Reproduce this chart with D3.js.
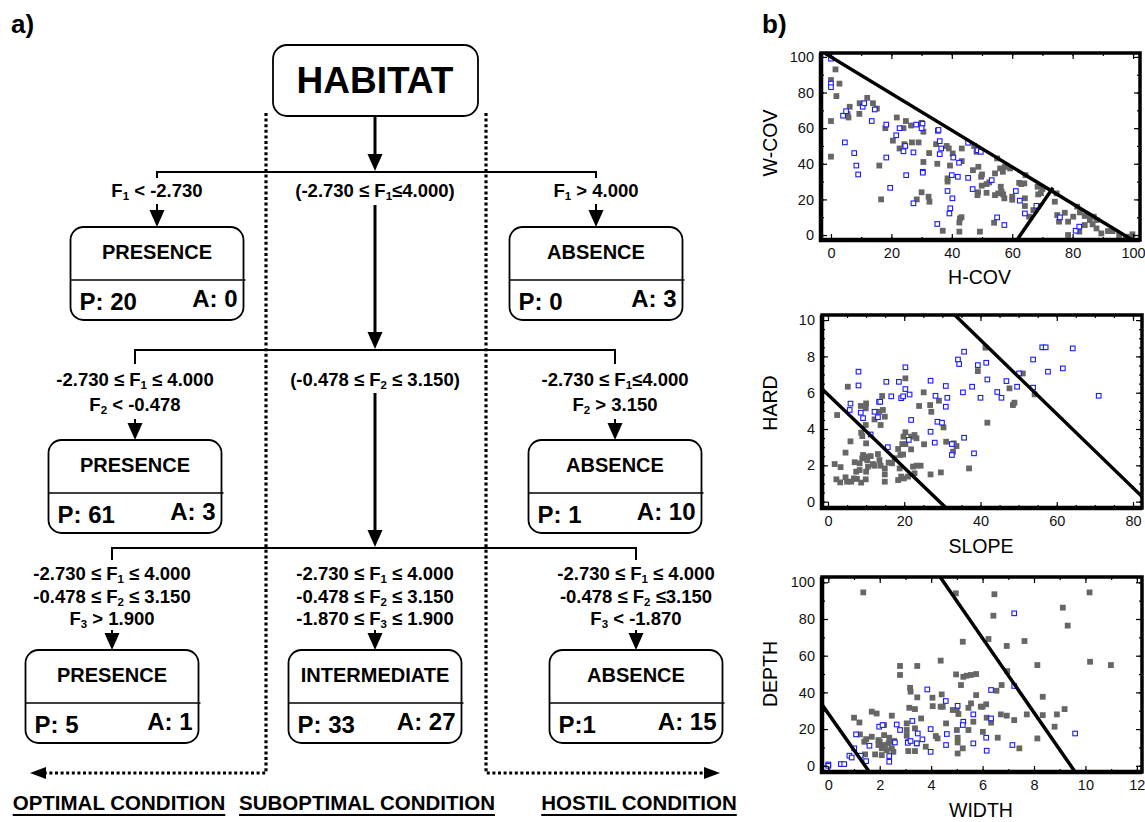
<!DOCTYPE html>
<html lang="en">
<head>
<meta charset="UTF-8">
<script src="https://cdn.jsdelivr.net/npm/d3@7"></script>
<title>Habitat classification tree</title>
<style>
  body { margin: 0; background: #fff; }
  svg text { font-family: "Liberation Sans", Arial, Helvetica, sans-serif; }
</style>
</head>
<body>
<svg id="chart" width="1145" height="822"></svg>
<script>
// ---------- tree (panel a) ----------
var rootLabel = "HABITAT";
var trunkRules = ["(-2.730 ≤ F_1≤4.000)", "(-0.478 ≤ F_2 ≤ 3.150)"];
var leafTitles = ["PRESENCE", "ABSENCE", "PRESENCE", "ABSENCE", "PRESENCE", "INTERMEDIATE", "ABSENCE"];
var leafP = ["P: 20", "P: 0", "P: 61", "P: 1", "P: 5", "P: 33", "P:1"];
var leafA = ["A: 0", "A: 3", "A: 3", "A: 10", "A: 1", "A: 27", "A: 15"];
var leafRules = [
  ["F_1 < -2.730"],
  ["F_1 > 4.000"],
  ["-2.730 ≤ F_1 ≤ 4.000", "F_2 < -0.478"],
  ["-2.730 ≤ F_1≤4.000", "F_2 > 3.150"],
  ["-2.730 ≤ F_1 ≤ 4.000", "-0.478 ≤ F_2 ≤ 3.150", "F_3 > 1.900"],
  ["-2.730 ≤ F_1 ≤ 4.000", "-0.478 ≤ F_2 ≤ 3.150", "-1.870 ≤ F_3 ≤ 1.900"],
  ["-2.730 ≤ F_1 ≤ 4.000", "-0.478 ≤ F_2 ≤3.150", "F_3 < -1.870"]
];
var zoneLabels = ["OPTIMAL CONDITION", "SUBOPTIMAL CONDITION", "HOSTIL CONDITION"];

// ---------- scatter data (panel b) ----------
var hcovGray = [[0,87],[1.5,93],[2.8,85],[1.8,78],[0,64],[0,44],[5.8,66],[6.2,72],[5.5,68],[9.5,74],[12,77],[13.9,74],[15.2,71],[9.4,68],[18,60],[20.5,53],[21.8,66],[24.8,64],[24,60],[26.5,61.5],[30,63],[30.6,58],[22.7,48.6],[24.3,51],[26.8,52],[29,52],[30.6,41],[30,24],[28.4,20],[32.3,21.5],[32.6,18.7],[16,39],[16.6,20],[32.5,46],[34.8,51],[35.2,40],[38.3,50],[39,48.6],[39.4,39],[40.3,45.8],[43.3,48.6],[43.3,41.5],[47.4,50],[48.2,46.7],[38.6,31.8],[38.6,30],[47,36.4],[48.8,38.3],[49.7,32.7],[50,34],[42.7,9.3],[43.2,10],[42.5,7],[42.5,1.9],[37,2.4],[48.5,22.4],[48.7,24],[49.3,1.9],[49.9,27.7],[51.5,28.6],[52.4,29.5],[54.3,34.6],[51.5,23.7],[54.3,22.4],[55.4,23.4],[56.5,24.3],[57,22.8],[56.2,27.1],[55,43],[56,37.4],[56.9,35.5],[57.6,38.3],[59.3,37.4],[57.4,20.6],[54,6.9],[60,21.5],[60,19.8],[62.3,29.3],[63,28.6],[64.2,20.6],[64.2,16.3],[64,29],[64.4,33.6],[65.6,10.3],[67,14],[68.6,16.3],[68.6,22.8],[68.4,27.1],[70,25.8],[69.5,23.5],[74.1,18.7],[74.9,11.2],[75.5,7.5],[74.7,23.4],[77.4,12.5],[78.5,7.5],[78.5,0],[80.2,10.3],[81.5,15.9],[82.4,12.7],[82.2,1.9],[84,10.7],[85,11.2],[85.7,8.4],[86.6,6],[87,10.3],[87.9,8.4],[87.9,3.7],[89.5,0.9],[84,5.6],[91.7,2.2],[93.2,2.2],[95.4,0],[97.6,-1],[99.8,0.4],[99,-1]];
var hcovBlue = [[0,99],[0,85],[0,83],[4,67],[5,69.5],[10.5,72],[11,74],[14.5,70.5],[4.6,52],[7.7,46],[8.4,39],[9,34],[13.5,64],[18.3,62],[21.6,56],[22.7,60],[28.2,62],[30.3,62.5],[30,60],[24,47],[24.6,50],[27.3,46.4],[30.4,35.5],[30.4,35],[27.3,17.8],[18.3,43.5],[19.6,26.5],[24.9,33.6],[35.4,58.5],[35.6,59],[36,52.7],[36.5,48.6],[36,45.4],[40.5,43.5],[42.4,40.6],[45.4,51.8],[48.5,47.6],[49.6,46.7],[40,33.6],[42,32.7],[45.4,32.1],[38.6,24.7],[40.2,20.6],[39.5,15],[39.2,12.1],[35.2,6.2],[46.9,25.8],[53.2,30.8],[55,9.9],[57.4,5.6],[61.2,24.7],[62.5,19.3],[64.2,12.1],[68,16.4],[75.8,9.9],[81,2.4],[82.2,4.7]];

var slopeGray = [[2.4,4.77],[5.2,6.33],[5.9,3.32],[4.6,2.7],[1.75,2.07],[3.3,1.9],[2.2,1.23],[3.2,1.06],[4.6,1.34],[5,1.1],[6.1,1.1],[6.8,1.28],[7.6,1.25],[7,2.17],[7.4,1.65],[8.3,1.74],[8.7,1.05],[9.9,1.23],[8.3,2.11],[9,2.39],[9.2,2.57],[9.9,2.48],[10.3,2.29],[10,1.65],[10.5,1.93],[11.2,2.51],[11.8,2.07],[12.2,1.98],[13.1,2.62],[13.8,1.98],[13.5,2.29],[14.9,1.83],[14.9,1.5],[14.9,1.1],[15.9,2.15],[16.8,2.11],[17.5,2.39],[18.4,2.9],[19,2.57],[18.8,1.83],[18.4,1.19],[19.2,1.38],[19.9,1.28],[19.7,2.6],[19.5,3.17],[20.3,3.17],[19.8,3.58],[20.3,3.82],[22.3,1.93],[23.2,1.98],[24.3,1.98],[22.7,1.56],[21,1.38],[22.7,3.67],[23.2,3.49],[21.8,2.88],[25.2,3.16],[26.9,1.5],[29.6,1.61],[10,5.41],[9.9,5.14],[8.6,5.27],[9.9,4.22],[8.7,3.8],[9,3.61],[10,3.21],[12.2,4.53],[13.4,4.95],[14.4,5.05],[14.9,4.68],[13.8,4.22],[14.2,5.82],[20.3,6.79],[21.8,3.58],[23.9,5.27],[25.1,6.02],[26.8,5.32],[27.1,4.95],[29.1,5.56],[30.3,4.09],[31,3.3],[33,3.21],[32.8,2.75],[37,1.83],[39.3,7.19],[41.3,8.48],[41.8,4.35],[47.6,6.24],[48.5,5.32],[48.9,5.45],[51.1,7.06],[54.2,5.91],[33.7,3.06]];
var slopeBlue = [[8,7.16],[8,6.4],[5.9,5.4],[5.7,5.05],[8.6,4.9],[9.2,4.6],[15.3,6.6],[18.6,6.6],[20.3,7.4],[20.3,6.2],[19.2,5.7],[19.7,5.8],[21.4,5.9],[16.6,5.8],[13.4,5.5],[13.7,5.5],[12.2,4.95],[13.1,4.65],[11.2,3.7],[15.7,3.0],[21.8,4.5],[21.2,3.4],[26.9,6.66],[28.2,5.83],[30.9,6.37],[31.3,5.72],[30.9,5.23],[28.7,4.4],[29.9,4.35],[26.9,3.85],[28,3.25],[32.5,3.17],[32.5,2.57],[35.7,3.52],[38.3,2.66],[34.1,7.83],[34.4,7.58],[35.7,8.26],[35.4,6.02],[37.8,6.33],[39.3,7.52],[40,5.72],[41.5,7.65],[41.8,6.73],[44.4,6.04],[45.5,5.72],[46.8,6.64],[49.6,6.33],[50.1,7.06],[53.8,7.83],[53.8,6.28],[56.2,8.5],[57.1,8.5],[57.7,7.16],[61.6,7.34],[64.2,8.44],[71,5.83]];

var widthGray = [[1.36,94.5],[4.96,94],[6.46,93.5],[6.42,81.8],[10.16,94.5],[9.12,86.2],[9.31,76.4],[5.23,67.6],[6.23,69.1],[6.94,65.3],[7.63,68],[8.13,54.9],[10.18,56.7],[10.99,54.9],[2.79,54.4],[2.79,49.5],[3.46,54.4],[4.37,57.3],[4.97,49.8],[5.25,48.5],[5.38,49.1],[5.55,49.5],[5.75,50],[6.96,51.6],[6.74,44],[6.54,40.9],[5.16,44],[3.18,42.5],[3.2,40.4],[3.46,37.3],[4.41,38.9],[4.05,37.1],[5.75,38.5],[8.34,37.6],[3.15,31.6],[3.37,30.9],[4.06,32.5],[4.37,32.2],[4.45,32.2],[4.84,30.4],[5.0,30.4],[5.45,31.6],[5.55,34],[5.93,32.2],[6.0,32.2],[6.14,33.5],[5.06,28.2],[9.19,30.9],[8.89,28],[8.34,27.6],[7.72,28],[6.71,28],[6.94,27.3],[7.23,24.9],[6.16,26.2],[6.33,23.5],[5.64,24],[4.58,23.1],[3.61,25.8],[1.69,29.5],[1.88,28.5],[1.0,26.2],[1.21,23.6],[2.47,27.3],[2.17,22.2],[3.05,23.1],[3.05,19.5],[3.05,16.4],[3.11,13.1],[3.11,8],[3.37,20.4],[3.44,12.2],[3.37,8],[3.79,10.4],[4.18,16.2],[4.25,14.9],[5.0,19.5],[5.03,15.3],[5.03,12.7],[5.03,6.7],[5.23,9.5],[5.45,19.5],[6.01,18.5],[6.59,15.3],[7.43,9.5],[8.13,14.9],[8.8,21.3],[1.4,13.1],[1.23,17.1],[1.47,14.5],[1.69,15.8],[1.43,6.2],[1.82,6.2],[1.95,11.3],[2.0,13.1],[2.08,9.5],[2.14,11.3],[2.27,8.5],[2.34,12.2],[2.37,15.3],[2.17,16.7],[2.47,9.5],[2.53,7.6],[2.08,5.8],[2.4,13.1],[1.95,14],[2.56,13.5],[2.2,10.4]];
var widthBlue = [[0,0.7],[0,0],[0.49,0.9],[0.62,0.9],[0.82,5.5],[0.91,4.5],[1.08,17.1],[1.01,9.5],[1.26,5.5],[1.47,2.5],[1.6,10.9],[1.98,21.3],[2.11,22.2],[2.37,5.3],[2.37,2.2],[2.59,12.7],[2.66,22.5],[2.79,19.5],[3.09,12.5],[3.27,24.4],[3.2,13.5],[3.48,17.6],[3.44,12.2],[3.66,14.4],[3.85,41.6],[3.98,20],[3.98,7.6],[4.57,35.3],[4.61,17.3],[4.58,11.3],[5.03,32.7],[5.25,24],[5.23,22.2],[5.64,28],[5.64,12.2],[6.14,15.3],[6.16,8.2],[6.33,25.8],[6.33,41.3],[7.23,83.1],[7.23,43.5],[7.16,11.3],[9.6,17.6]];

// separating lines
var hcovLines = [[[-2, 102], [99.5, -2.5]], [[61.5, -3], [73.5, 26.5]]];
var slopeLines = [[[-2, 6.3], [31, -0.35]], [[33, 10.33], [82.5, 0.25]]];
var widthLines = [[[-0.26, 33.6], [1.6, -3.4]], [[4.35, 102.9], [9.6, -3.4]]];

var svg = d3.select("#chart");

// ---------- panel a ----------
var bold = "bold";
svg.append("text").attr("x", 11).attr("y", 33).attr("font-size", 26).attr("font-weight", bold).text("a)");
svg.append("text").attr("x", 762).attr("y", 33).attr("font-size", 26).attr("font-weight", bold).text("b)");

// "F_1" -> F with a subscript 1
function richText(sel, str) {
  var parts = str.split(/F_(\d)/), shift = 0;
  parts.forEach(function(p, i) {
    if (i % 2 === 0) {
      if (p === "") return;
      var t = sel.append("tspan").text(p);
      if (shift) { t.attr("dy", -shift); shift = 0; }
    } else {
      var f = sel.append("tspan").text("F");
      if (shift) { f.attr("dy", -shift); shift = 0; }
      sel.append("tspan").attr("font-size", 11.5).attr("dy", 3).text(p);
      shift = 3;
    }
  });
}

function arrowHead(g, x, tipY, w, h) {
  g.append("path")
    .attr("d", "M" + (x - w / 2) + "," + (tipY - h) + "L" + (x + w / 2) + "," + (tipY - h) + "L" + x + "," + tipY + "Z")
    .attr("fill", "#000");
}

var tree = svg.append("g");
var trunkX = 375;
var ruleSize = 18.5;

// root box
tree.append("rect").attr("x", 273).attr("y", 45).attr("width", 205).attr("height", 71).attr("rx", 14)
  .attr("fill", "#fff").attr("stroke", "#000").attr("stroke-width", 1.8);
tree.append("text").attr("x", trunkX).attr("y", 93).attr("text-anchor", "middle")
  .attr("font-size", 37).attr("font-weight", bold).text(rootLabel);

// zone dividers (dotted)
var dot = "3,2.6";
tree.append("path").attr("d", "M266,113V773H44").attr("fill", "none")
  .attr("stroke", "#000").attr("stroke-width", 3.2).attr("stroke-dasharray", dot);
tree.append("path").attr("d", "M486,113V773H706").attr("fill", "none")
  .attr("stroke", "#000").attr("stroke-width", 3.2).attr("stroke-dasharray", dot);
tree.append("path").attr("d", "M30,773L46,767L46,779Z").attr("fill", "#000");
tree.append("path").attr("d", "M720,773L704,767L704,779Z").attr("fill", "#000");

// trunk
var trunkSegs = [[116, 171], [205, 349], [393, 547]];
trunkSegs.forEach(function(s) {
  tree.append("line").attr("x1", trunkX).attr("x2", trunkX).attr("y1", s[0]).attr("y2", s[1] - 14)
    .attr("stroke", "#000").attr("stroke-width", 3);
  arrowHead(tree, trunkX, s[1], 15, 17);
});
trunkRules.forEach(function(r, i) {
  var t = tree.append("text").attr("x", trunkX).attr("y", [197, 386][i]).attr("text-anchor", "middle")
    .attr("font-size", ruleSize).attr("font-weight", bold).style("white-space", "pre");
  richText(t, r);
});

var levels = [
  { branchY: 172, tickY: 178, ruleY: 197, gap: 25, arrowFrom: 204, boxTop: 227, xs: [157, 596], leaves: [0, 1] },
  { branchY: 350, tickY: 364, ruleY: 386, gap: 25, arrowFrom: 419, boxTop: 440, xs: [135, 615], leaves: [2, 3] },
  { branchY: 548, tickY: 560, ruleY: 580, gap: 22.5, arrowFrom: 630, boxTop: 650, xs: [112, 375, 636], leaves: [4, 5, 6] }
];
var boxW = 173, boxH = 93;

levels.forEach(function(lv) {
  var x0 = lv.xs[0], x1 = lv.xs[lv.xs.length - 1];
  tree.append("path").attr("d", "M" + x0 + "," + lv.tickY + "V" + lv.branchY + "H" + x1 + "V" + lv.tickY)
    .attr("fill", "none").attr("stroke", "#000").attr("stroke-width", 2);
  lv.leaves.forEach(function(li, k) {
    var cx = lv.xs[k];
    leafRules[li].forEach(function(r, j) {
      var t = tree.append("text").attr("x", cx).attr("y", lv.ruleY + j * lv.gap).attr("text-anchor", "middle")
        .attr("font-size", ruleSize).attr("font-weight", bold).style("white-space", "pre");
      richText(t, r);
    });
    tree.append("line").attr("x1", cx).attr("x2", cx).attr("y1", lv.arrowFrom).attr("y2", lv.boxTop - 14)
      .attr("stroke", "#000").attr("stroke-width", 2);
    arrowHead(tree, cx, lv.boxTop, 15, 17);
    var bx = cx - boxW / 2, by = lv.boxTop;
    tree.append("rect").attr("x", bx).attr("y", by).attr("width", boxW).attr("height", boxH).attr("rx", 13)
      .attr("fill", "#fff").attr("stroke", "#000").attr("stroke-width", 1.8);
    tree.append("line").attr("x1", bx).attr("x2", bx + boxW + 2).attr("y1", by + 53).attr("y2", by + 53)
      .attr("stroke", "#000").attr("stroke-width", 1.5);
    tree.append("text").attr("x", cx).attr("y", by + 32).attr("text-anchor", "middle")
      .attr("font-size", 20).attr("font-weight", bold).text(leafTitles[li]);
    tree.append("text").attr("x", bx + 9).attr("y", by + 83)
      .attr("font-size", 24).attr("font-weight", bold).text(leafP[li]);
    tree.append("text").attr("x", bx + boxW - 6).attr("y", by + 80).attr("text-anchor", "end")
      .attr("font-size", 24).attr("font-weight", bold).text(leafA[li]);
  });
});

// zone labels
var zoneX = [119, 367, 639];
zoneLabels.forEach(function(z, i) {
  var t = tree.append("text").attr("x", zoneX[i]).attr("y", 810).attr("text-anchor", "middle")
    .attr("font-size", 20.5).attr("font-weight", bold).text(z);
  var w = t.node().getComputedTextLength();
  tree.append("line").attr("x1", zoneX[i] - w / 2).attr("x2", zoneX[i] + w / 2)
    .attr("y1", 815).attr("y2", 815).attr("stroke", "#000").attr("stroke-width", 2);
});

// ---------- panel b ----------
var plots = [
  { left: 821, right: 1140, top: 53, bottom: 240, xd: [-3.3, 102.3], yd: [-2.8, 102.2],
    xt: [0, 100, 20, 10], yt: [0, 100, 20, 10], gray: hcovGray, blue: hcovBlue, lines: hcovLines,
    xLabel: "H-COV", yLabel: "W-COV", xLabelY: 284, yLabelY: 143 },
  { left: 822, right: 1142, top: 315, bottom: 508, xd: [-1.57, 82.36], yd: [-0.35, 10.28],
    xt: [0, 80, 20, 5], yt: [0, 10, 2, 0.5], gray: slopeGray, blue: slopeBlue, lines: slopeLines,
    xLabel: "SLOPE", yLabel: "HARD", xLabelY: 553, yLabelY: 403 },
  { left: 822, right: 1142, top: 577, bottom: 772, xd: [-0.245, 12.2], yd: [-3.4, 102.9],
    xt: [0, 12, 2, 1], yt: [0, 100, 20, 10], gray: widthGray, blue: widthBlue, lines: widthLines,
    xLabel: "WIDTH", yLabel: "DEPTH", xLabelY: 817, yLabelY: 674 }
];

function steps(t) { return d3.range(t[0], t[1] + t[2] / 1000, t[2]); }
function minors(t) { return d3.range(t[0], t[1] + t[3] / 1000, t[3]); }

plots.forEach(function(p, pi) {
  var x = d3.scaleLinear().domain(p.xd).range([p.left, p.right]);
  var y = d3.scaleLinear().domain(p.yd).range([p.bottom, p.top]);
  var g = svg.append("g");
  var clipId = "clip" + pi;
  g.append("clipPath").attr("id", clipId).append("rect")
    .attr("x", p.left).attr("y", p.top).attr("width", p.right - p.left).attr("height", p.bottom - p.top);
  var inner = g.append("g").attr("clip-path", "url(#" + clipId + ")");

  inner.selectAll("rect.gray").data(p.gray).join("rect").attr("class", "gray")
    .attr("x", function(d) { return x(d[0]) - 2.9; }).attr("y", function(d) { return y(d[1]) - 2.9; })
    .attr("width", 5.8).attr("height", 5.8).attr("fill", "#666");
  inner.selectAll("rect.blue").data(p.blue).join("rect").attr("class", "blue")
    .attr("x", function(d) { return x(d[0]) - 2.3; }).attr("y", function(d) { return y(d[1]) - 2.3; })
    .attr("width", 4.6).attr("height", 4.6).attr("fill", "#fff").attr("stroke", "#1a1aff").attr("stroke-width", 1.1);
  inner.selectAll("line.sep").data(p.lines).join("line").attr("class", "sep")
    .attr("x1", function(d) { return x(d[0][0]); }).attr("y1", function(d) { return y(d[0][1]); })
    .attr("x2", function(d) { return x(d[1][0]); }).attr("y2", function(d) { return y(d[1][1]); })
    .attr("stroke", "#000").attr("stroke-width", 3.5);

  // axes: ticks inside, labels outside
  function addAxis(axis, tx, ty, vals, size, labels) {
    var a = g.append("g").attr("transform", "translate(" + tx + "," + ty + ")")
      .call(axis.tickValues(vals).tickSizeInner(-size).tickSizeOuter(0).tickPadding(8)
        .tickFormat(labels ? d3.format("d") : ""));
    a.select(".domain").remove();
    a.selectAll("line").attr("stroke", "#000").attr("stroke-width", 1.2);
    a.selectAll("text").attr("font-size", 14.5).attr("fill", "#111")
      .attr("font-family", "'Liberation Sans', Arial, sans-serif");
    return a;
  }
  addAxis(d3.axisBottom(x), 0, p.bottom, minors(p.xt), 3, false);
  addAxis(d3.axisBottom(x), 0, p.bottom, steps(p.xt), 6, true);
  addAxis(d3.axisTop(x), 0, p.top, minors(p.xt), 3, false);
  addAxis(d3.axisTop(x), 0, p.top, steps(p.xt), 6, false);
  addAxis(d3.axisLeft(y), p.left, 0, minors(p.yt), 3, false);
  var ya = addAxis(d3.axisLeft(y), p.left, 0, steps(p.yt), 6, true);
  ya.selectAll("text").attr("x", -7);
  addAxis(d3.axisRight(y), p.right, 0, minors(p.yt), 3, false);
  addAxis(d3.axisRight(y), p.right, 0, steps(p.yt), 6, false);

  // frame
  g.append("rect").attr("x", p.left).attr("y", p.top).attr("width", p.right - p.left).attr("height", p.bottom - p.top)
    .attr("fill", "none").attr("stroke", "#000").attr("stroke-width", 3.5);
  g.append("path").attr("d", "M" + p.left + "," + p.top + "V" + p.bottom + "H" + p.right)
    .attr("fill", "none").attr("stroke", "#000").attr("stroke-width", 4.5);

  g.append("text").attr("x", (p.left + p.right) / 2 - 1).attr("y", p.xLabelY).attr("text-anchor", "middle")
    .attr("font-size", 19.5).text(p.xLabel);
  g.append("text").attr("transform", "translate(777," + p.yLabelY + ") rotate(-90)").attr("text-anchor", "middle")
    .attr("font-size", 19.5).text(p.yLabel);
});
</script>
</body>
</html>
